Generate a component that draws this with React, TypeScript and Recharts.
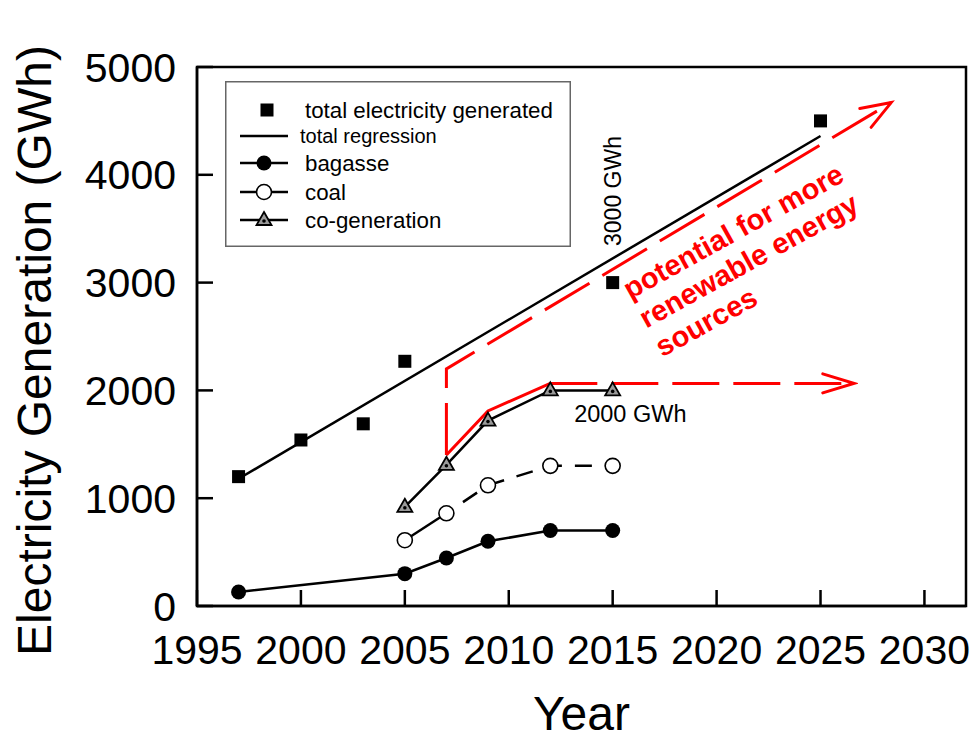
import React from 'react';
import {
    ComposedChart,
    Line,
    Scatter,
    XAxis,
    YAxis,
    Legend,
    ReferenceArea,
    ReferenceDot,
    Customized,
} from 'recharts';

// data (GWh)
const totalYears = [1997, 2000, 2003, 2005, 2015, 2025];
const totalValues = [1200, 1540, 1690, 2270, 3000, 4500];

const regressionYears = [1997, 2025];
const regressionValues = [1180, 4360];

const bagasseYears = [1997, 2005, 2007, 2009, 2012, 2015];
const bagasseValues = [130, 300, 445, 600, 700, 700];

const coalYears = [2005, 2007, 2009, 2012, 2015];
const coalValues = [610, 860, 1120, 1300, 1300];

const cogenYears = [2005, 2007, 2009, 2012, 2015];
const cogenValues = [920, 1310, 1720, 2000, 2000];

// red "potential" guide lines
const renewYears = [2007, 2009, 2012];
const renewValues = [1400, 1810, 2065];
const plateauYears = [2012, 2026.6];
const plateauValues = [2065, 2065];
const potentialYears = [2007, 2007, 2028.4];
const potentialValues = [1400, 2200, 4670];

const xTicks = [1995, 2000, 2005, 2010, 2015, 2020, 2025, 2030];
const yTicks = [0, 1000, 2000, 3000, 4000, 5000];

const FONT = '"Liberation Sans", Arial, sans-serif';
const RED = '#ff0000';

const toPoints = (xs: number[], ys: number[]) => xs.map((year, i) => ({ year, value: ys[i] }));

const totalData = toPoints(totalYears, totalValues);
const regressionData = toPoints(regressionYears, regressionValues);
const bagasseData = toPoints(bagasseYears, bagasseValues);
const coalData = toPoints(coalYears, coalValues);
const cogenData = toPoints(cogenYears, cogenValues);
const renewData = toPoints(renewYears, renewValues);
const plateauData = toPoints(plateauYears, plateauValues);
const potentialData = toPoints(potentialYears, potentialValues);

const Square = ({ cx, cy }: any) => <rect x={cx - 6.5} y={cy - 6.5} width={13} height={13} fill="#000" />;

const FilledDot = ({ cx, cy }: any) => <circle cx={cx} cy={cy} r={7.5} fill="#000" />;

const OpenDot = ({ cx, cy }: any) => <circle cx={cx} cy={cy} r={7.5} fill="#fff" stroke="#000" strokeWidth={1.6} />;

const Triangle = ({ cx, cy }: any) => (
    <g>
        <path
            d={`M${cx},${cy - 8} L${cx + 7.5},${cy + 5} L${cx - 7.5},${cy + 5} Z`}
            fill="#9a9a9a"
            stroke="#000"
            strokeWidth={1.8}
        />
        <circle cx={cx} cy={cy + 1} r={1.8} fill="#000" />
    </g>
);

const noDot = () => null;

const ArrowDefs = () => (
    <defs>
        <marker id="arrowDiag" markerUnits="userSpaceOnUse" viewBox="0 0 40 30" markerWidth={40} markerHeight={30} refX={36} refY={15} orient="auto">
            <path d="M6,4 L36,15 L6,26" fill="none" stroke={RED} strokeWidth={3} strokeLinecap="round" />
        </marker>
        <marker id="arrowFlat" markerUnits="userSpaceOnUse" viewBox="0 0 40 30" markerWidth={40} markerHeight={30} refX={36} refY={15} orient="auto">
            <path d="M5,5.5 L36,15 L5,24.5" fill="none" stroke={RED} strokeWidth={3} strokeLinecap="round" />
        </marker>
    </defs>
);

const LegendBox = () => (
    <svg width={346} height={166} style={{ display: 'block', fontFamily: FONT }}>
        <rect x={0.75} y={0.75} width={344.5} height={164.5} fill="#fff" stroke="#666" strokeWidth={1.5} />
        <Square cx={42} cy={29} />
        <text x={80} y={29} fontSize={22.3} dominantBaseline="central">total electricity generated</text>

        <line x1={15} x2={63} y1={55} y2={55} stroke="#000" strokeWidth={2.5} />
        <text x={75} y={55} fontSize={20} dominantBaseline="central">total regression</text>

        <line x1={15} x2={63} y1={82} y2={82} stroke="#000" strokeWidth={2.5} />
        <FilledDot cx={39} cy={82} />
        <text x={80} y={82} fontSize={22.3} dominantBaseline="central">bagasse</text>

        <line x1={15} x2={63} y1={111} y2={111} stroke="#000" strokeWidth={2.5} />
        <OpenDot cx={39} cy={111} />
        <text x={80} y={111} fontSize={22.3} dominantBaseline="central">coal</text>

        <line x1={15} x2={63} y1={139} y2={139} stroke="#000" strokeWidth={2.5} />
        <Triangle cx={39} cy={139} />
        <text x={80} y={139} fontSize={22.3} dominantBaseline="central">co-generation</text>
    </svg>
);

const App: React.FC = () => {
    return (
        <div style={{ position: 'absolute', left: 0, top: 0, width: 973, height: 740, background: '#fff', fontFamily: FONT }}>
            <ComposedChart width={973} height={740} margin={{ top: 67, right: 7, left: 0, bottom: 0 }}>
                <Customized component={ArrowDefs} />
                <XAxis
                    type="number"
                    dataKey="year"
                    domain={[1995, 2032]}
                    ticks={xTicks}
                    allowDataOverflow
                    height={134}
                    tickSize={-16}
                    tickMargin={45}
                    axisLine={{ stroke: '#000', strokeWidth: 2.5 }}
                    tickLine={{ stroke: '#000', strokeWidth: 2.5 }}
                    tick={{ fill: '#000', fontSize: 41, fontFamily: FONT }}
                    label={{
                        content: ({ viewBox }: any) => (
                            <text x={viewBox.x + viewBox.width / 2} y={viewBox.y + 124} textAnchor="middle" fontSize={48} fontFamily={FONT} fill="#000">
                                Year
                            </text>
                        ),
                    }}
                />
                <YAxis
                    type="number"
                    domain={[0, 5000]}
                    ticks={yTicks}
                    width={197}
                    tickSize={-16}
                    tickMargin={37}
                    axisLine={{ stroke: '#000', strokeWidth: 2.5 }}
                    tickLine={{ stroke: '#000', strokeWidth: 2.5 }}
                    tick={{ fill: '#000', fontSize: 41, fontFamily: FONT }}
                    label={{
                        content: ({ viewBox }: any) => {
                            const cx = viewBox.x + 51;
                            const cy = viewBox.y + viewBox.height / 2 + 14;
                            return (
                                <text x={cx} y={cy} transform={`rotate(-90, ${cx}, ${cy})`} textAnchor="middle" fontSize={48} fontFamily={FONT} fill="#000">
                                    Electricity Generation (GWh)
                                </text>
                            );
                        },
                    }}
                />
                <ReferenceArea x1={1995} x2={2032} y1={0} y2={5000} fill="none" stroke="#000" strokeWidth={2.5} />

                <Legend
                    layout="vertical"
                    align="center"
                    verticalAlign="middle"
                    content={() => <LegendBox />}
                    wrapperStyle={{ left: 225, top: 81, width: 346, height: 166 }}
                />

                {/* red guide lines */}
                <Line data={potentialData} dataKey="value" stroke={RED} strokeWidth={3} strokeDasharray="52 15" dot={noDot} activeDot={false} isAnimationActive={false} markerEnd="url(#arrowDiag)" legendType="none" />
                <Line data={plateauData} dataKey="value" stroke={RED} strokeWidth={3} strokeDasharray="47 14" dot={noDot} activeDot={false} isAnimationActive={false} markerEnd="url(#arrowFlat)" legendType="none" />
                <Line data={renewData} dataKey="value" stroke={RED} strokeWidth={3} dot={noDot} activeDot={false} isAnimationActive={false} legendType="none" />

                {/* black series */}
                <Line data={regressionData} dataKey="value" stroke="#000" strokeWidth={2.5} dot={noDot} activeDot={false} isAnimationActive={false} />
                <Line data={bagasseData} dataKey="value" stroke="#000" strokeWidth={2.5} dot={(p: any) => <FilledDot key={`b${p.index}`} {...p} />} activeDot={false} isAnimationActive={false} />
                <Line data={coalData.slice(1)} dataKey="value" stroke="#000" strokeWidth={2.5} strokeDasharray="17 13" strokeDashoffset={-20} dot={noDot} activeDot={false} isAnimationActive={false} />
                <Line data={coalData.slice(0, 2)} dataKey="value" stroke="#000" strokeWidth={2.5} dot={noDot} activeDot={false} isAnimationActive={false} />
                <Line data={coalData} dataKey="value" stroke="none" dot={(p: any) => <OpenDot key={`c${p.index}`} {...p} />} activeDot={false} isAnimationActive={false} />
                <Line data={cogenData} dataKey="value" stroke="#000" strokeWidth={2.5} dot={(p: any) => <Triangle key={`g${p.index}`} {...p} />} activeDot={false} isAnimationActive={false} />
                <Scatter data={totalData} dataKey="value" shape={(p: any) => <Square {...p} />} isAnimationActive={false} />

                {/* annotations */}
                <ReferenceDot
                    x={2015.0}
                    y={3850}
                    r={0}
                    fill="none"
                    stroke="none"
                    label={{
                        content: ({ viewBox }: any) => (
                            <text x={viewBox.x} y={viewBox.y} transform={`rotate(-90, ${viewBox.x}, ${viewBox.y})`} textAnchor="middle" dominantBaseline="central" fontSize={23} fontFamily={FONT} fill="#000">
                                3000 GWh
                            </text>
                        ),
                    }}
                />
                <ReferenceDot
                    x={2015.85}
                    y={1780}
                    r={0}
                    fill="none"
                    stroke="none"
                    label={{
                        content: ({ viewBox }: any) => (
                            <text x={viewBox.x} y={viewBox.y} textAnchor="middle" dominantBaseline="central" fontSize={23.5} fontFamily={FONT} fill="#000">
                                2000 GWh
                            </text>
                        ),
                    }}
                />
                <ReferenceDot
                    x={2015.85}
                    y={2840}
                    r={0}
                    fill="none"
                    stroke="none"
                    label={{
                        content: ({ viewBox }: any) => (
                            <text
                                x={viewBox.x}
                                y={viewBox.y}
                                transform={`rotate(-29, ${viewBox.x}, ${viewBox.y})`}
                                fontSize={29}
                                fontWeight="bold"
                                fontFamily={FONT}
                                fill={RED}
                            >
                                <tspan x={viewBox.x} dy={0}>potential for more</tspan>
                                <tspan x={viewBox.x} dy={33}>renewable energy</tspan>
                                <tspan x={viewBox.x} dy={33}>sources</tspan>
                            </text>
                        ),
                    }}
                />
            </ComposedChart>
        </div>
    );
};

export default App;
